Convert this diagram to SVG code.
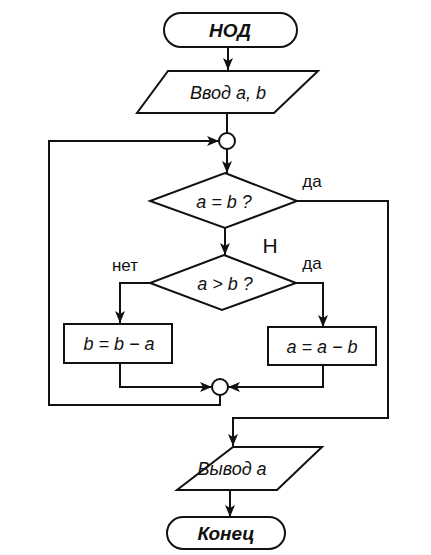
<svg xmlns="http://www.w3.org/2000/svg" width="431" height="555" viewBox="0 0 431 555">
<style>
.s{fill:#fff;stroke:#111;stroke-width:2}
.c{fill:none;stroke:#111;stroke-width:2}
.t{font-family:"Liberation Sans",Arial,sans-serif;font-size:18px;font-style:italic;fill:#111;text-anchor:middle}
.b{font-weight:bold;font-size:19px}
.l{font-family:"Liberation Sans",Arial,sans-serif;font-size:17px;fill:#111;text-anchor:middle}
</style>
<defs>
<marker id="a" viewBox="0 0 12 10" refX="12" refY="5" markerWidth="12" markerHeight="10" markerUnits="userSpaceOnUse" orient="auto">
<path d="M0,0 L12,5 L0,10 L3,5 Z" fill="#111"/>
</marker>
</defs>
<rect width="431" height="555" fill="#fff"/>
<g id="connectors" class="c">
<path d="M228,47 V70" marker-end="url(#a)"/>
<path d="M227,113 V133"/>
<path d="M227,149 V173" marker-end="url(#a)"/>
<path d="M225,228 V255" marker-end="url(#a)"/>
<path d="M297,201 H388 V418 H233 V446" marker-end="url(#a)"/>
<path d="M150,283 H120 V323" marker-end="url(#a)"/>
<path d="M296,283 H323 V327" marker-end="url(#a)"/>
<path d="M120,363 V387 H212" marker-end="url(#a)"/>
<path d="M323,365 V387 H228" marker-end="url(#a)"/>
<path d="M220,395 V405 H49 V141 H219" marker-end="url(#a)"/>
<path d="M230,490 V517" marker-end="url(#a)"/>
</g>
<g id="start">
<rect class="s" x="164" y="13" width="133" height="34" rx="17"/>
<text class="t b" x="230" y="37">НОД</text>
</g>
<g id="input">
<polygon class="s" points="168,71 318,71 274,113 137,113"/>
<text class="t" x="228" y="99">Ввод a, b</text>
</g>
<g id="join1">
<circle class="s" cx="227" cy="141" r="8"/>
</g>
<g id="cond1">
<polygon class="s" points="225,173 297,201 225,228 150,201"/>
<text class="t" x="224" y="208">a = b ?</text>
</g>
<g id="cond2">
<polygon class="s" points="224,255 296,283 222,310 150,283"/>
<text class="t" x="225" y="290">a &gt; b ?</text>
</g>
<g id="sub1">
<rect class="s" x="64" y="324" width="108" height="39"/>
<text class="t" x="119" y="350">b = b − a</text>
</g>
<g id="sub2">
<rect class="s" x="268" y="327" width="108" height="38"/>
<text class="t" x="322" y="353">a = a − b</text>
</g>
<g id="join2">
<circle class="s" cx="220" cy="387" r="8"/>
</g>
<g id="output">
<polygon class="s" points="233,447 322,447 277,490 177,490"/>
<text class="t" x="232" y="475">Вывод a</text>
</g>
<g id="end">
<rect class="s" x="167" y="517" width="118" height="32" rx="16"/>
<text class="t b" x="226" y="540">Конец</text>
</g>
<g id="labels">
<text class="l" x="312" y="187">да</text>
<text class="l" x="270" y="253" style="font-size:21px">Н</text>
<text class="l" x="125" y="271">нет</text>
<text class="l" x="312" y="269">да</text>
</g>
</svg>
